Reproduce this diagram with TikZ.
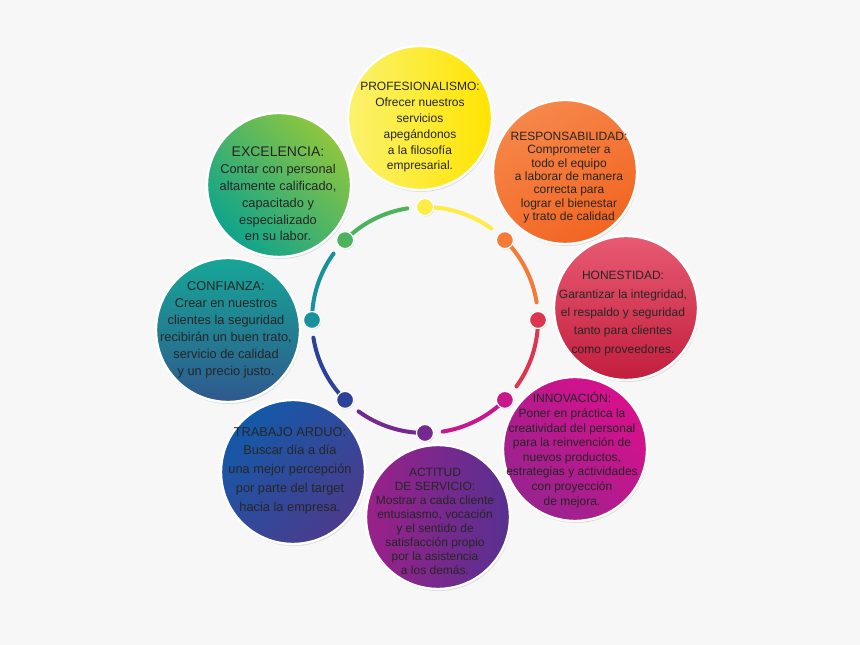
\documentclass[tikz,border=0pt]{standalone}
\usepackage{fontspec}
\setmainfont{Liberation Sans}
\usetikzlibrary{shadows}

\definecolor{bg}{HTML}{F7F7F7}
\definecolor{ink}{HTML}{262626}
% disc gradients
\definecolor{profA}{HTML}{FAF26E}\definecolor{profB}{HTML}{FFE400}
\definecolor{respA}{HTML}{F6874A}\definecolor{respB}{HTML}{F26522}
\definecolor{honA}{HTML}{E85A72}\definecolor{honB}{HTML}{C21E3D}
\definecolor{innoA}{HTML}{D8108C}\definecolor{innoB}{HTML}{98238F}
\definecolor{actA}{HTML}{9A2189}\definecolor{actB}{HTML}{573090}
\definecolor{trabA}{HTML}{1459A9}\definecolor{trabB}{HTML}{4B3B8C}
\definecolor{confA}{HTML}{16A697}\definecolor{confB}{HTML}{2F588E}
\definecolor{exceA}{HTML}{8EC63F}\definecolor{exceB}{HTML}{0EA38C}
% ring colours
\definecolor{yelRing}{HTML}{FFEC45}
\definecolor{oraRing}{HTML}{F47A36}
\definecolor{redRing}{HTML}{DC3550}
\definecolor{magRing}{HTML}{C9168D}
\definecolor{purRing}{HTML}{73298E}
\definecolor{bluRing}{HTML}{2C4197}
\definecolor{tealRing}{HTML}{17919B}
\definecolor{grnRing}{HTML}{4DB25C}

\begin{document}
\begin{tikzpicture}[x=1pt,y=1pt,
  bigdisc/.style={circle,minimum size=144pt,inner sep=0pt,draw=white,line width=2.4pt,
    drop shadow={shadow xshift=1pt,shadow yshift=-2pt,opacity=0.22}},
  txt/.style 2 args={align=center,text=ink,inner sep=0pt,font=\fontsize{#1}{#2}\selectfont},
  ringdot/.style={circle,minimum size=17pt,inner sep=0pt,draw=white,line width=1.2pt,fill=#1,
    drop shadow={shadow xshift=0.8pt,shadow yshift=-1pt,opacity=0.22}},
  ringarc/.style={line width=4pt,line cap=round,draw=#1}]
  % background
  \fill[bg] (0,0) rectangle (860,645);
  % the ring
  \coordinate (hub) at (425,325);
  \foreach \a/\c in {90/yelRing,45/oraRing,0/redRing,-45/magRing,
                     -90/purRing,-135/bluRing,180/tealRing,135/grnRing}
    \draw[ringarc=\c] (hub) ++(\a:113) arc[start angle=\a,end angle=\a-36,radius=113];
  \foreach \a/\c/\n in {90/yelRing/d1,45/oraRing/d2,0/redRing/d3,-45/magRing/d4,
                        -90/purRing/d5,-135/bluRing/d6,180/tealRing/d7,135/grnRing/d8}
    \node[ringdot=\c] (\n) at ([shift={(\a:113)}]hub) {};
  % the eight discs
  \node[bigdisc,left color=profA,right color=profB] (prof) at (420,527) {};
  \node[bigdisc,top color=respA,bottom color=respB,shading angle=30] (resp) at (565,473) {};
  \node[bigdisc,top color=honA,bottom color=honB] (hon) at (626,337) {};
  \node[bigdisc,top color=innoA,bottom color=innoB,shading angle=-45] (inno) at (575,196) {};
  \node[bigdisc,left color=actA,right color=actB] (act) at (438,128) {};
  \node[bigdisc,top color=trabA,bottom color=trabB,shading angle=45] (trab) at (293,173) {};
  \node[bigdisc,top color=confA,bottom color=confB] (conf) at (228,315) {};
  \node[bigdisc,top color=exceA,bottom color=exceB,shading angle=-45] (exce) at (279,460) {};
  % texts
  \node[txt={12}{15.8}] (prof-t) at (420,517.5) {PROFESIONALISMO:\\Ofrecer nuestros\\servicios\\apegándonos\\a la filosofía\\empresarial.};
  \node[txt={12}{13.4}] (resp-t) at (569,467.5) {RESPONSABILIDAD:\\Comprometer a\\todo el equipo\\a laborar de manera\\correcta para\\lograr el bienestar\\y trato de calidad};
  \node[txt={12}{18.3}] (hon-t) at (623,331.5) {HONESTIDAD:\\Garantizar la integridad,\\el respaldo y seguridad\\tanto para clientes\\como proveedores.};
  \node[txt={12}{14.6}] (inno-t) at (572,195) {INNOVACIÓN:\\Poner en práctica la\\creatividad del personal\\para la reinvención de\\nuevos productos,\\estrategias y actividades\\con proyección\\de mejora.};
  \node[txt={12}{14}] (act-t) at (435,124) {ACTITUD\\DE SERVICIO:\\Mostrar a cada cliente\\entusiasmo, vocación\\y el sentido de\\satisfacción propio\\por la asistencia\\a los demás.};
  \node[txt={12.8}{18.8}] (trab-t) at (290,174.5) {TRABAJO ARDUO:\\Buscar día a día\\una mejor percepción\\por parte del target\\hacia la empresa.};
  \node[txt={12.8}{17}] (conf-t) at (226,315.5) {CONFIANZA:\\Crear en nuestros\\clientes la seguridad\\recibirán un buen trato,\\servicio de calidad\\y un precio justo.};
  \node[txt={12.8}{16.8}] (exce-t) at (278,451) {{\fontsize{14}{16.8}\selectfont EXCELENCIA:}\\Contar con personal\\altamente calificado,\\capacitado y\\especializado\\en su labor.};
\end{tikzpicture}
\end{document}
